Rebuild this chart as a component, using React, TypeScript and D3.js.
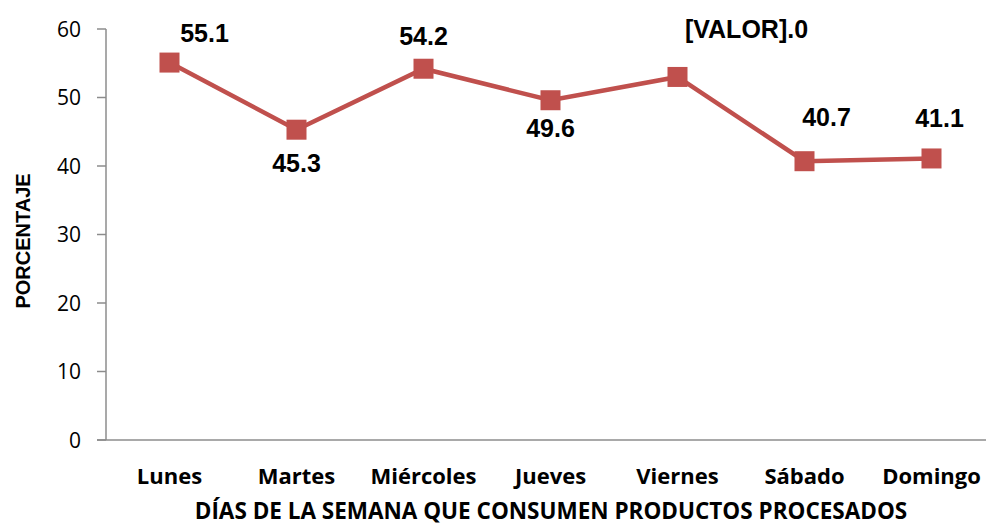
import React from 'react';
import * as d3 from 'd3';

const dias = ['Lunes', 'Martes', 'Miércoles', 'Jueves', 'Viernes', 'Sábado', 'Domingo'];
const porcentajes = [55.1, 45.3, 54.2, 49.6, 53.0, 40.7, 41.1];
const etiquetas = ['55.1', '45.3', '54.2', '49.6', '[VALOR].0', '40.7', '41.1'];
const yTicks = [0, 10, 20, 30, 40, 50, 60];

// label offsets from the marker (layout, not data)
const labelOffsets: [number, number][] = [
  [35, -30], [0, 33], [0, -33], [0, 28], [69, -48], [22, -44], [8, -40],
];

const W = 986;
const H = 526;
const color = '#C0504D';

const App = () => {
  const x = d3.scaleBand().domain(dias).range([106, 995]);
  const y = d3.scaleLinear().domain([0, 60]).range([440, 29]);
  const cx = (d: string) => (x(d) ?? 0) + x.bandwidth() / 2;

  const line = d3.line<number>()
    .x((_, i) => cx(dias[i]))
    .y(d => y(d));

  return (
    <svg width={W} height={H} style={{ position: 'absolute', left: 0, top: 0, background: '#fff' }}>
      {/* y axis */}
      <line x1={106} x2={106} y1={y(60)} y2={y(0)} stroke="#8c8c8c" strokeWidth={1.5} />
      {yTicks.map(t => (
        <g key={t}>
          <line x1={97} x2={106} y1={y(t)} y2={y(t)} stroke="#8c8c8c" strokeWidth={1.5} />
          <text x={81} y={y(t)} dy="0.36em" textAnchor="end" fontFamily="Open Sans" fontSize={21} fill="#000">{t}</text>
        </g>
      ))}
      {/* x axis */}
      <line x1={97} x2={W} y1={y(0)} y2={y(0)} stroke="#8c8c8c" strokeWidth={1.5} />
      {dias.map(d => (
        <text key={d} x={cx(d)} y={484} textAnchor="middle" fontFamily="Open Sans" fontWeight="bold" fontSize={22} fill="#000">{d}</text>
      ))}

      <path d={line(porcentajes) ?? ''} fill="none" stroke={color} strokeWidth={4.5} />
      {porcentajes.map((v, i) => (
        <rect key={i} x={cx(dias[i]) - 10} y={y(v) - 10} width={20} height={20} fill={color} />
      ))}
      {porcentajes.map((v, i) => (
        <text key={'l' + i} x={cx(dias[i]) + labelOffsets[i][0]} y={y(v) + labelOffsets[i][1]} dy="0.36em"
          textAnchor="middle" fontFamily="Liberation Sans" fontWeight="bold" fontSize={25} fill="#000">
          {etiquetas[i]}
        </text>
      ))}

      <text transform={`translate(30,${241}) rotate(-90)`} textAnchor="middle" fontFamily="Liberation Sans" fontWeight="bold" fontSize={20} fill="#000">PORCENTAJE</text>
      <text x={551} y={519} textAnchor="middle" fontFamily="Open Sans" fontWeight="bold" fontSize={22.5} fill="#000">DÍAS DE LA SEMANA QUE CONSUMEN PRODUCTOS PROCESADOS</text>
    </svg>
  );
};

export default App;
